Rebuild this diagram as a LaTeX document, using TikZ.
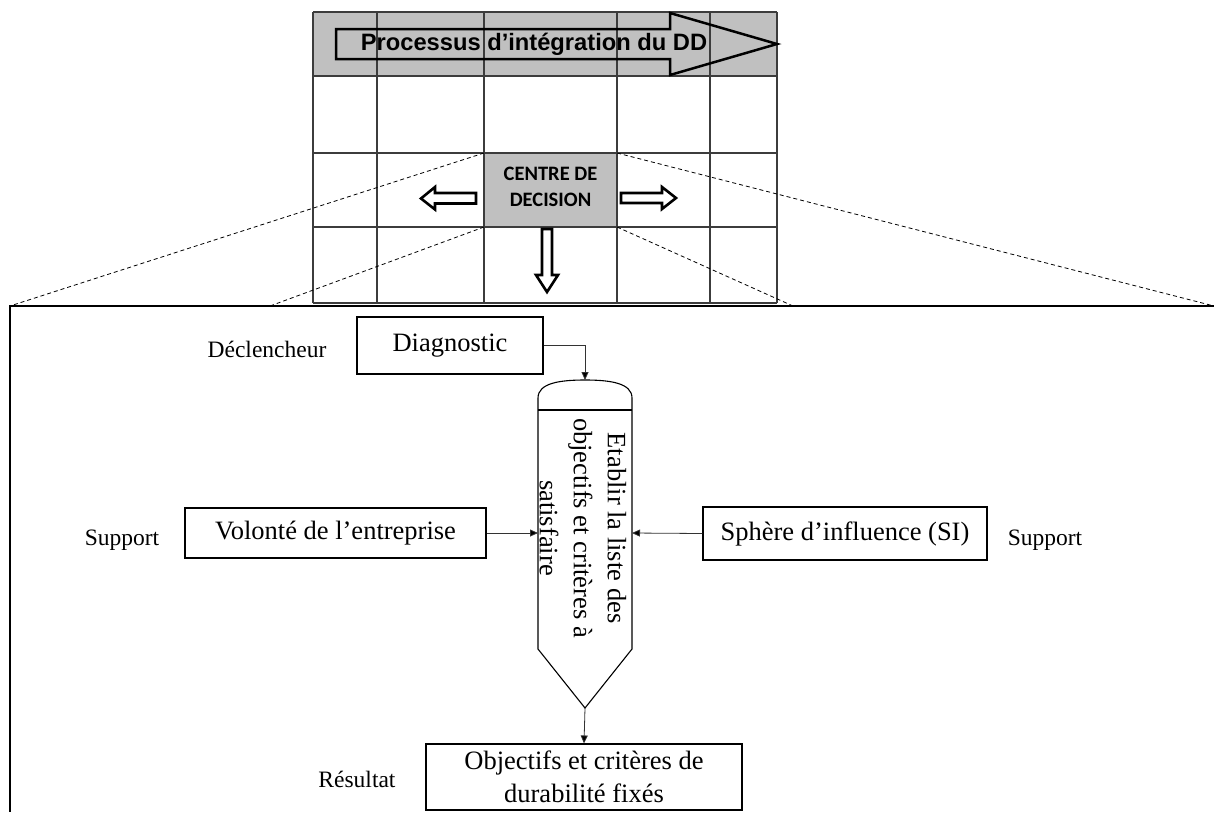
\documentclass[tikz,border=0pt]{standalone}
\usepackage{fontspec}
\setmainfont{Liberation Serif}
\newfontfamily\arialfont{Liberation Sans}
\newfontfamily\calibrifont{Carlito}
\usetikzlibrary{arrows.meta, positioning}
\definecolor{cellgray}{RGB}{192,192,192}
\definecolor{gridline}{RGB}{60,60,60}

\begin{document}
\begin{tikzpicture}[x=1pt, y=-1pt,
  font=\fontsize{26.5}{32}\selectfont,
  box/.style={draw, line width=1.1pt, inner sep=0pt, align=center},
  lbl/.style={font=\fontsize{23.5}{28}\selectfont, inner sep=0pt, anchor=base},
  link/.style={draw=black!80, line width=0.8pt, -{Triangle[length=8pt,width=7pt,fill=black]}},
  hollow/.style={draw, line width=2.6pt, line join=miter, fill=white},
  zoomline/.style={dash pattern=on 4pt off 3pt, line width=0.8pt}]
\useasboundingbox (0,0) rectangle (1214,812);

% grille du processus
\fill[cellgray] (313,12) rectangle (777,76);
\fill[cellgray] (484,153) rectangle (617,227);
\foreach \gx in {313,377,484,617,710,777}
  \draw[gridline, line width=1.2pt] (\gx,12) -- (\gx,303);
\foreach \gy in {12,76,153,227,303}
  \draw[gridline, line width=1.2pt] (313,\gy) -- (777,\gy);

% grande fleche
\draw[line width=2.5pt, line join=miter] (336,29) -- (670,29) -- (670,13) -- (777,44)
  -- (670,75) -- (670,59) -- (336,59) -- cycle;
\node[font=\arialfont\bfseries\fontsize{23.7}{28}\selectfont] (title) at (534,44) {Processus d’intégration du DD};
\node[font=\calibrifont\bfseries\fontsize{20.5}{26}\selectfont, align=center] (centre) at (550.5,186.5) {CENTRE DE\\DECISION};

% petites fleches
\draw[hollow] (476,193) -- (435,193) -- (435,187) -- (421,198.5) -- (435,209.5) -- (435,203.5) -- (476,203.5) -- cycle;
\draw[hollow] (621,193) -- (662,193) -- (662,187) -- (676,198) -- (662,209) -- (662,203) -- (621,203) -- cycle;
\draw[hollow] (542,229) -- (542,275) -- (536,275) -- (547,292) -- (558,275) -- (552,275) -- (552,229) -- cycle;

% loupe
\draw[zoomline] (484,153) -- (10,306);
\draw[zoomline] (484,227) -- (270,306);
\draw[zoomline] (617,153) -- (1214,306);
\draw[zoomline] (617,227) -- (793,306);
\draw[line width=1.8pt] (1214,306) -- (10,306) -- (10,812);

% activite
\coordinate (vtop) at (585,380);
\coordinate (vleft) at (538,533);
\coordinate (vright) at (632,533);
\coordinate (vtip) at (585,708);
\draw[line width=1.1pt, line join=miter] (538,410) -- (538,398) .. controls (538,383) and (560,380) .. (vtop)
  .. controls (610,380) and (632,383) .. (632,398) -- (632,649) -- (vtip) -- (538,649) -- cycle;
\draw[line width=1.1pt] (538,410) -- (632,410);
\node[rotate=-90, align=center, inner sep=0pt, font=\fontsize{26.5}{34}\selectfont] (task) at (583,528)
  {Etablir la liste des\\objectifs et critères à\\satisfaire};

\node[box, minimum width=186, minimum height=57] (diag) at (450,345.5) {Diagnostic};
\node[box, minimum width=301, minimum height=50] (will) at (335.5,533) {Volonté de l’entreprise};
\node[box, minimum width=284, minimum height=53] (sphere) at (845,533.5) {Sphère d’influence (SI)};
\node[box, minimum width=316, minimum height=66, font=\fontsize{26.5}{33}\selectfont] (result) at (584,777)
  {Objectifs et critères de\\durabilité fixés};

\node[lbl] (trigger) at (267,357) {Déclencheur};
\node[lbl] (supl) at (122,545) {Support};
\node[lbl] (supr) at (1045,545) {Support};
\node[lbl] (outl) at (357,787) {Résultat};

\draw[link] (diag.east) -| (vtop);
\draw[link] (will.east) -- (vleft);
\draw[link] (sphere.west) -- (vright);
\draw[link] (vtip) -- (result.north);
\end{tikzpicture}
\end{document}
